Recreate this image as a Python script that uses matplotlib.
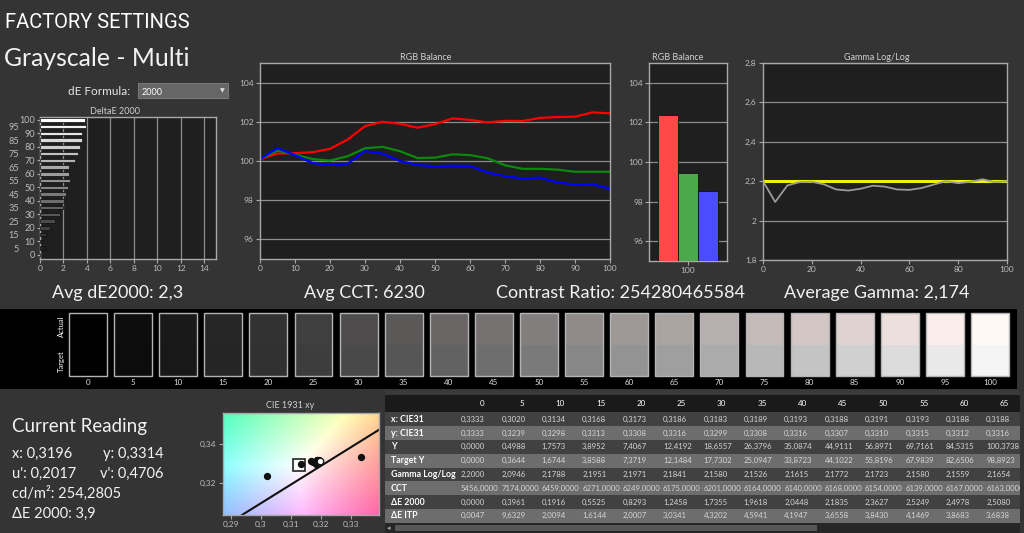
import numpy as np
import matplotlib
matplotlib.use('Agg')
import matplotlib.pyplot as plt
from matplotlib.patches import Rectangle

plt.rcParams['font.family'] = ['Lato', 'DejaVu Sans']

W, H = 1024, 533

# ---- data ----
levels = list(range(0, 101, 5))
de2000 = [0.00, 0.40, 0.19, 0.55, 0.83, 1.25, 1.74, 1.96, 2.04, 2.18, 2.36,
          2.52, 2.50, 2.51, 2.99, 3.22, 3.42, 3.57, 3.62, 3.91, 3.86]

red = [100.10, 100.38, 100.40, 100.45, 100.62, 101.09, 101.78, 102.00, 101.90, 101.70, 101.88,
       102.17, 102.10, 101.97, 102.05, 102.04, 102.20, 102.24, 102.26, 102.48, 102.43]
green = [100.10, 100.53, 100.33, 100.10, 100.02, 100.24, 100.65, 100.72, 100.50, 100.15, 100.17,
         100.34, 100.30, 100.14, 99.78, 99.60, 99.60, 99.56, 99.45, 99.45, 99.45]
blue = [100.10, 100.65, 100.30, 99.90, 99.80, 99.86, 100.51, 100.38, 100.00, 99.80, 99.73,
        99.76, 99.75, 99.42, 99.23, 99.11, 99.15, 98.91, 98.80, 98.82, 98.58]

bar_vals = [102.35, 99.45, 98.55]
bar_cols = ['#ff4848', '#4ba84b', '#4c4cff']

gamma = [2.2000, 2.0946, 2.1788, 2.1951, 2.1971, 2.1841, 2.1580, 2.1526, 2.1615, 2.1772, 2.1723,
         2.1580, 2.1559, 2.1654, 2.183, 2.200, 2.190, 2.197, 2.210, 2.195, 2.200]
gamma_target = 2.2

cie_x = [0.3333, 0.3020, 0.3134, 0.3168, 0.3173, 0.3186, 0.3183, 0.3189, 0.3193, 0.3188, 0.3191,
         0.3193, 0.3188, 0.3188, 0.3190, 0.3192, 0.3189, 0.3191, 0.3193, 0.3194]
cie_y = [0.3333, 0.3239, 0.3298, 0.3313, 0.3308, 0.3316, 0.3299, 0.3308, 0.3316, 0.3307, 0.3310,
         0.3315, 0.3312, 0.3316, 0.3313, 0.3314, 0.3312, 0.3314, 0.3313, 0.3315]
cur_x, cur_y = 0.3196, 0.3314
d65_x, d65_y = 0.3127, 0.3290
locus_x = [0.2938, 0.3393]
locus_y = [0.3039, 0.3471]

tbl_cols = ['0', '5', '10', '15', '20', '25', '30', '35', '40', '45', '50', '55', '60', '65']
row_x = ['0,3333', '0,3020', '0,3134', '0,3168', '0,3173', '0,3186', '0,3183', '0,3189', '0,3193', '0,3188', '0,3191', '0,3193', '0,3188', '0,3188']
row_y = ['0,3333', '0,3239', '0,3298', '0,3313', '0,3308', '0,3316', '0,3299', '0,3308', '0,3316', '0,3307', '0,3310', '0,3315', '0,3312', '0,3316']
row_Y = ['0,0000', '0,4988', '1,7573', '3,8952', '7,4067', '12,4192', '18,6557', '26,3796', '35,0874', '44,9111', '56,8971', '69,7161', '84,5315', '100,3738']
row_tY = ['0,0000', '0,3644', '1,6744', '3,8588', '7,3719', '12,1484', '17,7302', '25,0947', '33,8723', '44,1022', '55,8196', '67,9839', '82,6506', '98,8923']
row_gam = ['2,2000', '2,0946', '2,1788', '2,1951', '2,1971', '2,1841', '2,1580', '2,1526', '2,1615', '2,1772', '2,1723', '2,1580', '2,1559', '2,1654']
row_cct = ['5456,0000', '7174,0000', '6459,0000', '6271,0000', '6249,0000', '6175,0000', '6201,0000', '6164,0000', '6140,0000', '6168,0000', '6154,0000', '6139,0000', '6167,0000', '6163,0000']
row_de = ['0,0000', '0,3961', '0,1916', '0,5525', '0,8293', '1,2458', '1,7355', '1,9618', '2,0448', '2,1835', '2,3627', '2,5249', '2,4978', '2,5080']
row_itp = ['0,0047', '9,6329', '2,0094', '1,6144', '2,0007', '3,0341', '4,3202', '4,5941', '4,1947', '3,6558', '3,8430', '4,1469', '3,8683', '3,6838']
row_names = ['x: CIE31', 'y: CIE31', 'Y', 'Target Y', 'Gamma Log/Log', 'CCT', '\u0394E 2000', '\u0394E ITP']

fig = plt.figure(figsize=(10.24, 5.33), dpi=100)
fig.patch.set_facecolor('#343434')


def box(l, t, r, b):
    return fig.add_axes([l / W, 1 - b / H, (r - l) / W, (b - t) / H])


def put(x, y, s, **kw):
    return fig.text(x / W, 1 - y / H, s, **kw)


def style(ax, face='#1f1f1f'):
    ax.set_facecolor(face)
    for sp in ax.spines.values():
        sp.set_color('#a8a8a8')
        sp.set_linewidth(1)
    ax.tick_params(colors='#a8a8a8', labelcolor='#bdbdbd', labelsize=6, length=3, width=0.8, pad=1.5)


# headings
put(5, 28, 'FACTORY SETTINGS', fontsize=14.5, color='white', family=['Roboto', 'DejaVu Sans'])
put(4, 66, 'Grayscale - Multi', fontsize=17.8, color='#f2f2f2')
put(68, 95, 'dE Formula:', fontsize=8.5, color='#e6e6e6')
dd = box(138, 83, 228, 98)
dd.set_xticks([]); dd.set_yticks([])
dd.set_facecolor('#666666')
for sp in dd.spines.values():
    sp.set_color('#777777')
put(142, 95, '2000', fontsize=6.5, color='white')
put(222, 91, '\u25bc', fontsize=4.5, color='#dddddd', ha='center', va='center')

# DeltaE 2000 bars
ax = box(40, 117, 216, 259)
style(ax)
greys = [(0.10 + 0.90 * (l / 100) ** 1.1,) * 3 for l in levels]
ax.barh(levels, de2000, height=2.6, color=greys, edgecolor='#0c0c0c', linewidth=0.5, zorder=3)
ax.set_xlim(0, 15)
ax.set_ylim(-3, 102.2)
ax.set_xticks(range(0, 15, 2))
ax.grid(axis='x', color='#8c8c8c', linewidth=0.9)
ax.set_yticks(range(0, 101, 10))
ax.set_yticks(range(5, 100, 10), minor=True)
ax.set_yticklabels([str(v) for v in range(5, 100, 10)], minor=True)
ax.tick_params(axis='y', labelsize=6.6, length=2)
ax.tick_params(axis='y', which='minor', length=0, pad=15, labelsize=6.6, labelcolor='#bdbdbd')
put(115, 112, 'DeltaE 2000', fontsize=6.5, color='#cfcfcf', ha='center', va='center')

# RGB balance lines
ax = box(260, 63, 610, 259)
style(ax)
ax.plot(levels, red, color='#ff0000', lw=1.6)
ax.plot(levels, green, color='#0a8a0a', lw=1.6)
ax.plot(levels, blue, color='#0000ff', lw=1.6)
ax.set_xlim(0, 100)
ax.set_ylim(95, 105)
ax.set_xticks(range(0, 101, 10))
ax.set_yticks(range(96, 105, 2))
ax.grid(axis='y', color='#8c8c8c', linewidth=0.9)
ax.set_axisbelow(True)
put(426, 57, 'RGB Balance', fontsize=6.5, color='#cfcfcf', ha='center', va='center')

# RGB balance bars at 100
ax = box(649, 63, 727, 261)
style(ax)
ax.bar([-1, 0, 1], bar_vals, width=0.97, color=bar_cols, edgecolor='#111111', linewidth=0.6, zorder=3)
ax.set_xlim(-1.95, 1.95)
ax.set_ylim(95, 105)
ax.set_xticks([0])
ax.set_xticklabels(['100'])
ax.set_yticks(range(96, 105, 2))
ax.grid(axis='y', color='#8c8c8c', linewidth=0.9)
put(678, 57, 'RGB Balance', fontsize=6.5, color='#cfcfcf', ha='center', va='center')

# Gamma
ax = box(763, 63, 1007, 260)
style(ax)
ax.axhline(gamma_target, color='#f2f200', lw=2.2)
ax.plot(levels, gamma, color='#9a9a9a', lw=1.3)
ax.set_xlim(0, 100)
ax.set_ylim(1.8, 2.8)
ax.set_xticks(range(0, 101, 20))
gt = [1.8, 2.0, 2.2, 2.4, 2.6, 2.8]
ax.set_yticks(gt)
ax.set_yticklabels(['1,8', '2', '2,2', '2,4', '2,6', '2,8'])
ax.grid(axis='y', color='#8c8c8c', linewidth=0.9)
ax.set_axisbelow(True)
put(877, 57, 'Gamma Log/Log', fontsize=6.5, color='#cfcfcf', ha='center', va='center')

# summary line
for cx, s in [(118, 'Avg dE2000: 2,3'), (364, 'Avg CCT: 6230'),
              (620, 'Contrast Ratio: 254280465584'), (877, 'Average Gamma: 2,174')]:
    put(cx, 298, s, fontsize=13, color='#f2f2f2', ha='center')

# swatch strip
ax = box(0, 309, 1017, 389)
ax.set_facecolor('black')
ax.set_xticks([]); ax.set_yticks([])
for sp in ax.spines.values():
    sp.set_visible(False)
ax.set_xlim(-88 / 45.1, (1017 - 88) / 45.1)
ax.set_ylim(80, 0)
for i, l in enumerate(levels):
    v = 0.96 * l / 100
    act = np.clip([1.025 * v * (red[i] / 100) ** 2, 1.025 * v * (green[i] / 100) ** 2,
                   1.025 * v * (blue[i] / 100) ** 2], 0, 1)
    ax.add_patch(Rectangle((i - 0.42, 4), 0.84, 31.5, facecolor=act, edgecolor='none'))
    ax.add_patch(Rectangle((i - 0.42, 35.5), 0.84, 31, facecolor=(v, v, v), edgecolor='none'))
    ax.add_patch(Rectangle((i - 0.42, 4), 0.84, 62.5, facecolor='none', edgecolor='#b4b4b4', lw=1))
    ax.text(i, 73.5, str(l), fontsize=5.8, color='#dddddd', ha='center', va='center')
ax.text(-0.58, 17, 'Actual', rotation=90, fontsize=5.5, color='white', ha='center', va='center')
ax.text(-0.58, 52, 'Target', rotation=90, fontsize=5.5, color='white', ha='center', va='center')

# current reading
put(12, 432, 'Current Reading', fontsize=13.5, color='#f2f2f2')
put(12, 458, 'x: 0,3196', fontsize=10.5, color='#f2f2f2')
put(103, 458, 'y: 0,3314', fontsize=10.5, color='#f2f2f2')
put(12, 478, "u': 0,2017", fontsize=10.5, color='#f2f2f2')
put(100, 478, "v': 0,4706", fontsize=10.5, color='#f2f2f2')
put(12, 498, 'cd/m\u00b2: 254,2805', fontsize=10.5, color='#f2f2f2')
put(12, 518, '\u0394E 2000: 3,9', fontsize=10.5, color='#f2f2f2')

# CIE 1931 xy
ax = box(223, 413, 379, 515)
style(ax)
x0, x1, y0, y1 = 0.2875, 0.3393, 0.3039, 0.3556
gx, gy = np.meshgrid(np.linspace(x0, x1, 160), np.linspace(y1, y0, 110))
X = gx / gy
Z = (1 - gx - gy) / gy
M = np.array([[3.2406, -1.5372, -0.4986], [-0.9689, 1.8758, 0.0415], [0.0557, -0.2040, 1.0570]])
lin = np.stack([M[k, 0] * X + M[k, 1] + M[k, 2] * Z for k in range(3)], axis=-1)
lin = np.clip(lin / lin.max(axis=-1, keepdims=True), 0, 1)
rgb = lin ** (1 / 2.2)
rgb = np.clip(1 - (1 - rgb) * 2.6, 0, 1)
ax.imshow(rgb, extent=[x0, x1, y0, y1], aspect='auto', interpolation='bilinear')
ax.plot(locus_x, locus_y, color='#111111', lw=1.5)
ax.plot(d65_x, d65_y, marker='s', ms=8, mfc='none', mec='#222222', mew=1.2, ls='none')
ax.scatter(cie_x, cie_y, s=18, color='#111111', zorder=3)
ax.scatter([cur_x], [cur_y], s=22, facecolor='white', edgecolor='#111111', lw=0.9, zorder=4)
ax.set_xlim(x0, x1)
ax.set_ylim(y0, y1)
ax.set_xticks([0.29, 0.30, 0.31, 0.32, 0.33])
ax.set_xticklabels(['0,29', '0,3', '0,31', '0,32', '0,33'])
ax.set_yticks([0.32, 0.34])
ax.set_yticklabels(['0,32', '0,34'])
put(290, 406, 'CIE 1931 xy', fontsize=6.5, color='#cfcfcf', ha='center', va='center')

# data table
rows = [row_x, row_y, row_Y, row_tY, row_gam, row_cct, row_de, row_itp]
ax = box(385, 390, 1020, 533)
ax.set_xlim(385, 1020)
ax.set_ylim(533, 390)
ax.axis('off')
ax.add_patch(Rectangle((385, 390), 635, 143, facecolor='#3a3a3a', edgecolor='none'))
ax.add_patch(Rectangle((385, 395), 635, 17.4, facecolor='#1a1a1a', edgecolor='none'))
row_h = 13.8
for r, vals in enumerate(rows):
    top = 412.4 + row_h * r
    ax.add_patch(Rectangle((385, top), 635, row_h,
                           facecolor='#414141' if r % 2 == 0 else '#6d6d6d', edgecolor='none'))
    ax.text(391, top + row_h / 2, row_names[r], fontsize=6.3, color='white',
            fontweight='bold', va='center', ha='left')
    for j, s in enumerate(vals):
        ax.text(461 + 40.4 * j, top + row_h / 2, s, fontsize=5.6, color='#d6d6d6',
                va='center', ha='left', clip_on=True)
for j, c in enumerate(tbl_cols):
    ax.text(461 + 40.4 * j + 23, 403.5, c, fontsize=5.8, color='white', va='center', ha='right')
ax.add_patch(Rectangle((385, 523), 635, 10, facecolor='#262626', edgecolor='none'))
ax.add_patch(Rectangle((395, 525), 422, 6, facecolor='#575757', edgecolor='none'))
ax.text(389, 528, '\u25c2', fontsize=5, color='#aaaaaa', va='center', ha='center')

fig.savefig('out.png', dpi=100, facecolor=fig.get_facecolor())
